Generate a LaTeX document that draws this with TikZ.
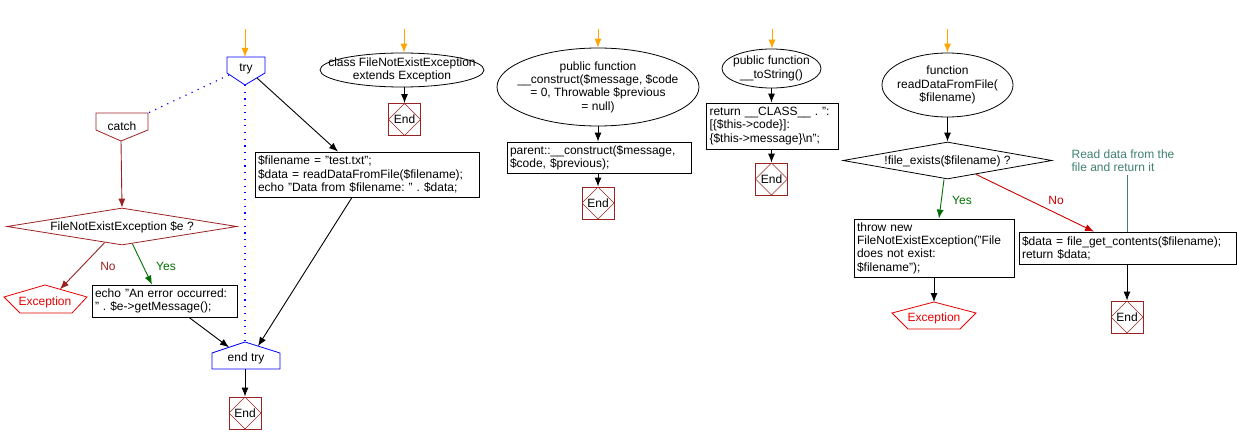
\documentclass[tikz,border=0pt]{standalone}
\usepackage{fontspec}
\setmainfont{Liberation Sans}
\usetikzlibrary{shapes.geometric,arrows.meta,calc}
\definecolor{tryblue}{RGB}{0,0,255}
\definecolor{brn}{RGB}{153,34,34}
\definecolor{excred}{RGB}{230,0,0}
\definecolor{yesgreen}{RGB}{0,110,0}
\definecolor{nored}{RGB}{204,0,0}
\definecolor{startor}{RGB}{255,165,0}
\definecolor{cmt}{RGB}{64,128,112}
\begin{document}
\frenchspacing
\begin{tikzpicture}[x=1pt,y=-1pt,
  every node/.style={font=\fontsize{12}{13.3}\selectfont\frenchspacing, inner sep=0pt},
  box/.style={draw, rectangle, line width=0.8pt, inner sep=3pt, align=left},
  ell/.style={draw, ellipse, line width=0.8pt},
  dia/.style={draw, diamond, line width=0.8pt},
  endbox/.style={draw=brn, line width=0.8pt, minimum size=32pt,
    path picture={\draw[brn, line width=0.5pt] (path picture bounding box.north) -- (path picture bounding box.east) -- (path picture bounding box.south) -- (path picture bounding box.west) -- cycle;}},
  flow/.style={line width=0.9pt, -{Latex[length=9pt,width=7pt]}},
  startarr/.style={flow, draw=startor},
  shapeline/.style={line width=0.8pt},
  dotline/.style={draw=tryblue, line width=1.2pt, dash pattern=on 1.2pt off 5.5pt},
]
\useasboundingbox (0,0) rectangle (1237,444);

% ---------- try / catch flow ----------
\coordinate (s1) at (245,29);
\coordinate (tryN) at (245,57);
\coordinate (tryP) at (245,85);
\coordinate (tryBL) at (229,75);
\coordinate (tryBR) at (257,78);
\draw[shapeline, tryblue] (227,57) -- (265,57) -- (265,73) -- (tryP) -- (227,73) -- cycle;
\node (try) at (246,69) {try};

\coordinate (catchTR) at (148,113);
\coordinate (catchP) at (121,141);
\draw[shapeline, brn] (96,113) -- (catchTR) -- (148,130) -- (catchP) -- (96,130) -- cycle;
\node (catch) at (122,126) {catch};

\node[dia, draw=brn, minimum width=230pt, minimum height=37pt] (d1) at (122,226.5) {};
\node (d1t) at (122,227) {FileNotExistException \$e ?};

\coordinate (exc1In) at (60,289.3);
\draw[shapeline, excred] (4,297) -- (45,285) -- (87,297) -- (72,313) -- (20,313) -- cycle;
\node[text=excred] (exc1) at (45,302) {Exception};

\node[box, minimum height=32pt, text width=139pt] (eb) at (164.5,301)
  {echo "An error occurred:\\" . \$e->getMessage();};

\node[box, minimum height=45pt, text width=218pt] (fb) at (367,174.5)
  {\$filename = "test.txt";\\\$data = readDataFromFile(\$filename);\\echo "Data from \$filename: " . \$data;};

\coordinate (etP) at (245,342);
\coordinate (etInL) at (229,347.3);
\coordinate (etInR) at (258,346.1);
\coordinate (etB) at (245,369);
\draw[shapeline, tryblue] (212,369) -- (212,353) -- (etP) -- (280,353) -- (280,369) -- cycle;
\node (endtry) at (246,358) {end try};

\node[endbox] (e4) at (245,413) {End};

\draw[startarr] (s1) -- (tryN);
\draw[dotline] (tryBL) -- (catchTR);
\draw[dotline] (tryP) -- (etP);
\draw[flow] (tryBR) -- ([xshift=-29pt]fb.north);
\draw[flow, brn] (catchP) -- (d1.north);
\draw[flow, brn] ($(d1.south)!0.15!(d1.west)$) -- (exc1In);
\draw[flow, yesgreen] ($(d1.south)!0.09!(d1.east)$) -- ([xshift=-12.5pt]eb.north);
\node[text=brn] (no1) at (108,266) {No};
\node[text=yesgreen] (yes1) at (166,266) {Yes};
\draw[flow] ([xshift=24.5pt]eb.south) -- (etInL);
\draw[flow] ([xshift=-15pt]fb.south) -- (etInR);
\draw[flow] (etB) -- (e4.north);

% ---------- class ----------
\coordinate (s2) at (404,29);
\node[ell, minimum width=164pt, minimum height=34pt] (cls) at (402,70) {};
\node[align=center] (clst) at (402,70) {class FileNotExistException\\extends Exception};
\node[endbox] (e1) at (404.5,119.5) {End};
\draw[startarr] (s2) -- (s2 |- cls.north);
\draw[flow] (e1.north |- cls.south) -- (e1.north);

% ---------- construct ----------
\coordinate (s3) at (598,29);
\node[ell, minimum width=202pt, minimum height=78pt] (con) at (598,87) {};
\node[align=center] (cont) at (598,87) {public function\\\_\_construct(\$message, \$code\\= 0, Throwable \$previous\\= null)};
\node[box, minimum height=31pt, text width=178pt] (pb) at (599,157.5)
  {parent::\_\_construct(\$message,\\\$code, \$previous);};
\node[endbox] (e2) at (598,203) {End};
\draw[startarr] (s3) -- (con.north);
\draw[flow] (con.south) -- (con.south |- pb.north);
\draw[flow] (e2.north |- pb.south) -- (e2.north);

% ---------- toString ----------
\coordinate (s4) at (772,29);
\node[ell, minimum width=99pt, minimum height=39pt] (ts) at (771.5,68.5) {};
\node[align=center] (tst) at (771.5,68.5) {public function\\\_\_toString()};
\node[box, minimum height=46pt, text width=126pt] (rb) at (772.5,126)
  {return \_\_CLASS\_\_ . ":\\{}[\{\$this->code\}]:\\\{\$this->message\}\textbackslash n";};
\node[endbox] (e3) at (771.5,179) {End};
\draw[startarr] (s4) -- (s4 |- ts.north);
\draw[flow] (ts.south) -- (ts.south |- rb.north);
\draw[flow] (e3.north |- rb.south) -- (e3.north);

% ---------- readDataFromFile ----------
\coordinate (s5) at (947.5,29);
\node[ell, minimum width=131pt, minimum height=64pt] (rd) at (947.5,85) {};
\node[align=center] (rdt) at (947.5,85) {function\\readDataFromFile(\\\$filename)};
\node[dia, minimum width=209pt, minimum height=37pt] (d2) at (947.5,160.5) {};
\node (d2t) at (947.5,161) {!file\_exists(\$filename) ?};
\node[box, minimum height=58pt, text width=154pt] (tb) at (934,248)
  {throw new\\FileNotExistException("File\\does not exist:\\\$filename");};
\coordinate (exc2P) at (934,302);
\draw[shapeline, excred] (892,313) -- (exc2P) -- (976,313) -- (960,329) -- (908,329) -- cycle;
\node[text=excred] (exc2) at (934,318) {Exception};
\node[box, minimum height=32pt, text width=211pt] (db) at (1127.5,248)
  {\$data = file\_get\_contents(\$filename);\\return \$data;};
\node[endbox] (e5) at (1127,317) {End};
\node[text=cmt, align=left] (cm) at (1123,160.5) {Read data from the\\file and return it};

\draw[startarr] (s5) -- (rd.north);
\draw[flow] (rd.south) -- (d2.north);
\draw[flow, yesgreen] ([xshift=-3.5pt]d2.south) -- ([xshift=5pt]tb.north);
\draw[flow, nored] ($(d2.south)!0.27!(d2.east)$) -- ([xshift=-33.5pt]db.north);
\node[text=yesgreen] (yes2) at (962,200) {Yes};
\node[text=nored] (no2) at (1056,200) {No};
\draw[flow] (tb.south) -- (exc2P);
\draw[flow] (e5.north |- db.south) -- (e5.north);
\draw[cmt, line width=0.8pt] ([yshift=-3pt]cm.south -| e5.north) -- (e5.north |- db.north);
\end{tikzpicture}
\end{document}
